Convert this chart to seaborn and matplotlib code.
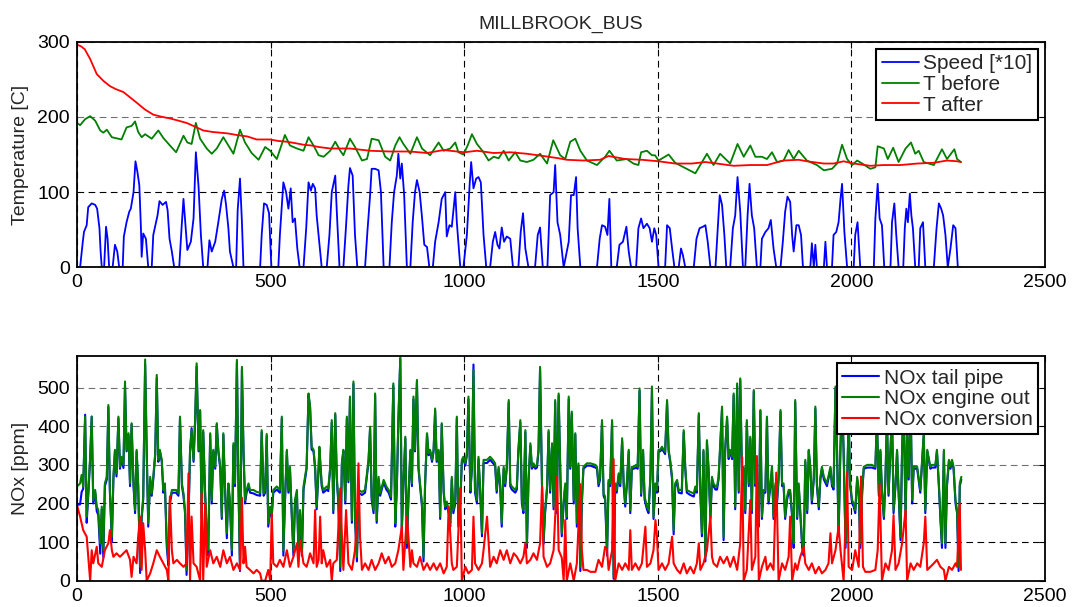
import matplotlib
matplotlib.use("Agg")
import matplotlib.pyplot as plt
import seaborn as sns

# ---------------- top panel: speed and catalyst temperatures ----------------
speed_t = [
    0, 8, 15, 18, 25, 29, 38, 47, 52, 58,
    61, 64, 70, 75, 79, 83, 92, 98, 104, 109,
    118, 121, 128, 135, 139, 146, 151, 156, 161, 165,
    167, 171, 178, 184, 193, 197, 208, 213, 221, 230,
    234, 239, 245, 251, 264, 270, 275, 279, 285, 294,
    301, 307, 314, 320, 326, 337, 342, 348, 357, 365,
    374, 380, 385, 391, 395, 404, 411, 415, 421, 426,
    430, 473, 477, 483, 490, 496, 502, 520, 524, 533,
    540, 546, 552, 557, 563, 569, 575, 585, 592, 598,
    604, 609, 615, 619, 624, 628, 632, 645, 652, 658,
    667, 671, 678, 688, 695, 701, 705, 712, 718, 724,
    744, 750, 757, 761, 770, 779, 785, 792, 807, 813,
    819, 826, 830, 835, 839, 845, 852, 861, 867, 873,
    878, 885, 891, 897, 904, 910, 919, 925, 934, 942,
    951, 955, 962, 968, 977, 981, 990, 998, 1007, 1014,
    1018, 1024, 1031, 1037, 1043, 1050, 1057, 1067, 1074, 1080,
    1086, 1091, 1097, 1103, 1110, 1119, 1126, 1140, 1146, 1152,
    1158, 1166, 1183, 1190, 1196, 1203, 1215, 1222, 1231, 1235,
    1241, 1248, 1257, 1270, 1276, 1283, 1289, 1293, 1300, 1343,
    1350, 1356, 1364, 1370, 1375, 1380, 1394, 1401, 1410, 1419,
    1425, 1431, 1444, 1450, 1457, 1463, 1472, 1479, 1485, 1491,
    1496, 1502, 1519, 1524, 1531, 1537, 1543, 1554, 1560, 1565,
    1571, 1593, 1600, 1608, 1617, 1623, 1629, 1636, 1649, 1655,
    1660, 1666, 1672, 1677, 1687, 1694, 1700, 1706, 1713, 1720,
    1726, 1732, 1737, 1743, 1749, 1756, 1765, 1769, 1778, 1786,
    1792, 1799, 1806, 1817, 1823, 1829, 1835, 1842, 1847, 1851,
    1858, 1864, 1870, 1875, 1894, 1898, 1903, 1907, 1911, 1929,
    1933, 1937, 1950, 1954, 1961, 1967, 1972, 1976, 1982, 1989,
    2006, 2010, 2016, 2023, 2058, 2062, 2068, 2073, 2079, 2085,
    2101, 2105, 2111, 2116, 2122, 2134, 2138, 2142, 2146, 2151,
    2155, 2159, 2165, 2174, 2178, 2185, 2191, 2213, 2220, 2226,
    2232, 2237, 2243, 2249, 2256, 2263, 2269, 2275, 2282,
]
speed_x10 = [
    0, 0, 34, 47, 56, 80, 85, 83, 78, 52,
    21, 0, 0, 54, 38, 0, 0, 30, 21, 0,
    0, 41, 60, 74, 78, 100, 141, 127, 109, 54,
    14, 45, 38, 0, 0, 43, 69, 88, 83, 87,
    76, 38, 21, 0, 0, 52, 91, 63, 23, 34,
    65, 153, 107, 43, 0, 0, 36, 21, 34, 60,
    91, 102, 83, 52, 21, 0, 0, 76, 118, 60,
    0, 0, 43, 85, 83, 72, 0, 0, 43, 113,
    100, 78, 105, 60, 65, 25, 0, 0, 52, 113,
    102, 111, 105, 69, 43, 21, 0, 0, 43, 100,
    122, 74, 0, 0, 56, 109, 132, 122, 43, 0,
    0, 47, 96, 131, 131, 129, 100, 0, 0, 60,
    100, 122, 151, 118, 138, 96, 0, 0, 60, 100,
    116, 100, 67, 30, 27, 0, 0, 34, 60, 91,
    100, 41, 56, 54, 100, 60, 0, 0, 43, 109,
    140, 105, 118, 120, 113, 43, 0, 0, 34, 47,
    30, 25, 53, 34, 41, 38, 0, 0, 47, 72,
    25, 0, 0, 43, 53, 0, 0, 96, 100, 136,
    60, 43, 0, 34, 96, 96, 120, 52, 0, 0,
    38, 56, 54, 43, 91, 0, 0, 30, 34, 54,
    21, 0, 0, 52, 65, 52, 58, 52, 34, 52,
    43, 0, 0, 56, 52, 25, 0, 0, 25, 16,
    0, 0, 38, 52, 54, 56, 34, 0, 0, 52,
    96, 83, 43, 0, 0, 52, 69, 120, 74, 0,
    0, 69, 111, 69, 52, 0, 0, 38, 47, 52,
    63, 25, 0, 0, 34, 74, 94, 87, 43, 21,
    56, 56, 43, 0, 0, 32, 0, 30, 0, 0,
    34, 0, 0, 43, 47, 60, 91, 111, 47, 0,
    0, 43, 60, 0, 0, 65, 111, 65, 56, 0,
    0, 60, 85, 43, 0, 0, 52, 78, 60, 98,
    69, 52, 0, 0, 52, 60, 0, 0, 52, 85,
    78, 69, 43, 0, 25, 56, 52, 0, 0,
]

t_before_t = [
    0, 8, 21, 34, 47, 60, 68, 77, 90, 115,
    128, 141, 150, 158, 167, 176, 193, 210, 223, 240,
    256, 275, 285, 296, 307, 318, 335, 348, 361, 378,
    391, 404, 421, 434, 451, 469, 486, 499, 516, 537,
    550, 568, 585, 598, 611, 624, 637, 654, 667, 680,
    688, 705, 718, 736, 749, 761, 779, 796, 809, 822,
    833, 843, 861, 878, 891, 912, 934, 947, 964, 977,
    985, 998, 1009, 1020, 1033, 1050, 1063, 1076, 1089, 1102,
    1115, 1132, 1145, 1162, 1179, 1196, 1214, 1230, 1248, 1261,
    1274, 1287, 1300, 1317, 1343, 1364, 1375, 1394, 1420, 1437,
    1450, 1457, 1472, 1485, 1493, 1502, 1528, 1545, 1567, 1597,
    1627, 1644, 1661, 1687, 1706, 1722, 1739, 1752, 1769, 1782,
    1795, 1808, 1825, 1838, 1851, 1864, 1885, 1911, 1929, 1950,
    1963, 1976, 1989, 2002, 2015, 2028, 2049, 2062, 2068, 2084,
    2094, 2108, 2122, 2140, 2154, 2165, 2174, 2187, 2213, 2234,
    2247, 2266, 2273, 2283,
]
t_before = [
    192, 189, 197, 201, 195, 182, 179, 183, 173, 170,
    186, 188, 194, 180, 173, 177, 171, 182, 172, 162,
    153, 175, 166, 164, 192, 171, 158, 151, 158, 173,
    162, 151, 183, 166, 152, 143, 160, 155, 144, 176,
    162, 158, 155, 173, 162, 149, 147, 155, 167, 155,
    149, 171, 160, 142, 144, 171, 169, 147, 142, 162,
    173, 164, 151, 173, 158, 149, 166, 155, 158, 166,
    153, 150, 162, 177, 164, 153, 142, 147, 145, 155,
    142, 153, 142, 140, 143, 151, 138, 169, 149, 144,
    167, 171, 155, 142, 136, 147, 155, 142, 144, 138,
    136, 153, 155, 149, 149, 142, 150, 139, 133, 125,
    151, 136, 151, 138, 164, 147, 162, 147, 147, 144,
    153, 140, 142, 156, 144, 155, 142, 136, 129, 131,
    138, 163, 144, 136, 142, 138, 131, 133, 161, 158,
    144, 159, 140, 158, 166, 151, 155, 140, 136, 157,
    144, 157, 144, 140,
]

t_after_t = [
    0, 10, 20, 34, 51, 68, 85, 100, 120, 137,
    154, 175, 197, 220, 240, 262, 283, 305, 326, 350,
    370, 390, 412, 440, 464, 499, 520, 542, 565, 585,
    605, 624, 654, 705, 757, 809, 860, 904, 947, 981,
    1001, 1033, 1076, 1119, 1162, 1205, 1244, 1265, 1308, 1351,
    1373, 1416, 1459, 1502, 1545, 1588, 1623, 1653, 1696, 1739,
    1782, 1825, 1864, 1885, 1929, 1954, 1980, 2006, 2049, 2084,
    2127, 2170, 2213, 2247, 2273, 2283,
]
t_after = [
    296, 294, 290, 277, 257, 248, 241, 237, 233, 226,
    219, 210, 203, 200, 198, 195, 192, 187, 182, 180,
    179, 178, 176, 174, 170, 170, 168, 167, 165, 163,
    162, 160, 158, 158, 155, 154, 154, 152, 156, 154,
    153, 155, 152, 153, 151, 148, 145, 143, 142, 143,
    148, 144, 143, 141, 138, 138, 140, 138, 135, 136,
    136, 142, 143, 141, 138, 138, 141, 138, 135, 136,
    136, 138, 139, 142, 141, 140,
]

# ---------------- bottom panel: NOx ----------------
nox_t = [
    # 0 - 624 s
    0, 8, 12, 16, 21, 25, 29, 34, 38, 42,
    47, 51, 55, 60, 64, 68, 72, 77, 81, 85,
    90, 94, 98, 102, 107, 111, 115, 120, 124, 128,
    133, 137, 141, 146, 150, 154, 158, 163, 167, 171,
    176, 180, 184, 189, 193, 197, 202, 206, 210, 214,
    219, 223, 227, 232, 236, 240, 245, 249, 256, 262,
    266, 271, 275, 279, 283, 288, 292, 296, 301, 305,
    309, 314, 318, 322, 326, 331, 335, 339, 344, 348,
    352, 357, 361, 365, 370, 374, 378, 382, 387, 391,
    395, 400, 404, 408, 413, 417, 421, 426, 430, 434,
    438, 443, 447, 456, 464, 473, 477, 482, 486, 490,
    494, 499, 503, 507, 516, 524, 529, 533, 537, 542,
    546, 550, 555, 559, 563, 568, 572, 576, 581, 585,
    589, 593, 598, 602, 606, 611, 615, 619, 624,
    # 626 - 1218 s
    626, 632, 636, 645, 649, 654, 658, 662, 667, 671,
    675, 680, 684, 688, 693, 697, 701, 705, 710, 714,
    718, 723, 727, 736, 744, 753, 757, 761, 766, 770,
    774, 779, 783, 792, 799, 805, 811, 817, 822, 826,
    830, 835, 839, 843, 848, 852, 856, 861, 865, 869,
    873, 878, 882, 886, 891, 895, 899, 904, 908, 912,
    917, 921, 925, 929, 934, 938, 942, 947, 951, 955,
    960, 964, 968, 972, 977, 981, 985, 990, 994, 998,
    1003, 1007, 1011, 1016, 1020, 1024, 1028, 1033, 1037, 1041,
    1046, 1050, 1059, 1067, 1074, 1080, 1084, 1089, 1093, 1097,
    1102, 1106, 1110, 1115, 1119, 1123, 1132, 1136, 1140, 1145,
    1149, 1153, 1158, 1162, 1166, 1171, 1175, 1179, 1184, 1188,
    1192, 1196, 1201, 1205, 1209, 1214, 1218,
    # 1222 - 1838 s
    1222, 1227, 1231, 1235, 1239, 1244, 1248, 1252, 1257, 1261,
    1265, 1270, 1274, 1278, 1283, 1287, 1291, 1295, 1300, 1304,
    1308, 1317, 1326, 1339, 1343, 1347, 1351, 1356, 1360, 1364,
    1369, 1373, 1377, 1382, 1386, 1390, 1394, 1399, 1403, 1408,
    1412, 1416, 1420, 1425, 1429, 1433, 1438, 1444, 1448, 1453,
    1457, 1462, 1466, 1472, 1476, 1481, 1485, 1489, 1494, 1498,
    1502, 1506, 1511, 1515, 1519, 1524, 1528, 1532, 1537, 1541,
    1545, 1550, 1554, 1562, 1567, 1571, 1575, 1584, 1593, 1597,
    1601, 1606, 1610, 1614, 1618, 1623, 1627, 1631, 1636, 1640,
    1644, 1649, 1653, 1657, 1661, 1666, 1670, 1674, 1679, 1683,
    1687, 1692, 1696, 1700, 1705, 1709, 1713, 1718, 1722, 1726,
    1730, 1735, 1739, 1743, 1748, 1752, 1756, 1761, 1765, 1769,
    1773, 1778, 1782, 1786, 1791, 1795, 1799, 1804, 1808, 1812,
    1817, 1821, 1825, 1829, 1834, 1838,
    # 1842 - 2284 s
    1842, 1847, 1851, 1855, 1860, 1864, 1868, 1873, 1877, 1881,
    1886, 1890, 1894, 1898, 1903, 1907, 1911, 1916, 1920, 1924,
    1929, 1937, 1946, 1950, 1954, 1959, 1963, 1967, 1972, 1976,
    1980, 1985, 1989, 1993, 1997, 2002, 2006, 2010, 2015, 2019,
    2023, 2028, 2032, 2041, 2053, 2062, 2066, 2071, 2075, 2079,
    2084, 2088, 2092, 2096, 2101, 2105, 2109, 2114, 2118, 2122,
    2127, 2131, 2135, 2140, 2144, 2148, 2153, 2157, 2161, 2170,
    2178, 2187, 2191, 2196, 2204, 2208, 2217, 2221, 2226, 2230,
    2234, 2239, 2243, 2247, 2252, 2256, 2260, 2264, 2269, 2273,
    2277, 2280, 2284,
]
nox_engine_out = [
    244, 252, 274, 244, 425, 166, 226, 321, 425, 209,
    235, 192, 183, 97, 192, 79, 252, 269, 455, 235,
    114, 269, 339, 278, 425, 295, 321, 300, 516, 339,
    382, 252, 408, 252, 183, 339, 252, 36, 166, 218,
    573, 339, 149, 269, 226, 269, 330, 533, 313, 339,
    313, 235, 252, 97, 54, 209, 235, 235, 235, 226,
    425, 252, 226, 183, 28, 166, 339, 390, 313, 416,
    563, 339, 442, 166, 390, 226, 131, 79, 382, 209,
    339, 295, 408, 339, 295, 166, 382, 252, 123, 252,
    209, 79, 356, 252, 572, 252, 36, 554, 339, 209,
    235, 252, 235, 235, 230, 228, 390, 226, 235, 380,
    149, 192, 174, 235, 244, 235, 425, 79, 209, 339,
    235, 295, 166, 79, 209, 235, 79, 183, 79, 244,
    269, 295, 485, 451, 347, 339, 295, 192, 295,
    347, 252, 235, 244, 239, 295, 416, 183, 434, 269,
    209, 36, 304, 339, 209, 425, 261, 477, 157, 516,
    166, 62, 235, 230, 235, 313, 399, 218, 183, 485,
    157, 269, 226, 261, 244, 235, 218, 511, 149, 244,
    416, 580, 140, 252, 373, 97, 218, 339, 252, 477,
    339, 520, 295, 252, 200, 62, 252, 382, 330, 339,
    313, 339, 446, 313, 339, 166, 408, 235, 192, 205,
    183, 149, 269, 183, 209, 425, 149, 209, 313, 321,
    304, 330, 477, 235, 295, 546, 235, 209, 321, 244,
    123, 313, 313, 321, 313, 304, 235, 295, 252, 149,
    295, 252, 295, 468, 252, 244, 235, 244, 339, 416,
    209, 183, 390, 97, 261, 356, 295, 304, 295, 300,
    339, 554, 252, 105, 183, 244, 390,
    235, 356, 192, 468, 183, 485, 295, 123, 209, 252,
    166, 477, 295, 438, 209, 382, 149, 304, 36, 209,
    295, 304, 304, 300, 295, 252, 269, 416, 226, 218,
    79, 261, 252, 416, 10, 252, 235, 278, 252, 369,
    252, 200, 252, 339, 183, 295, 295, 300, 295, 498,
    226, 339, 218, 192, 183, 269, 503, 166, 252, 235,
    339, 339, 347, 339, 334, 468, 339, 313, 269, 131,
    252, 261, 235, 235, 390, 295, 235, 230, 226, 244,
    235, 434, 235, 123, 339, 62, 364, 295, 166, 269,
    252, 244, 244, 269, 347, 451, 114, 339, 425, 321,
    339, 321, 485, 192, 511, 235, 524, 252, 295, 183,
    416, 252, 373, 183, 494, 252, 269, 149, 442, 166,
    235, 235, 425, 209, 252, 295, 166, 252, 209, 269,
    442, 252, 252, 166, 218, 235,
    235, 174, 97, 468, 166, 252, 183, 97, 79, 313,
    183, 339, 295, 209, 269, 451, 252, 192, 269, 295,
    269, 252, 295, 252, 244, 503, 339, 123, 356, 477,
    339, 97, 252, 425, 252, 209, 200, 183, 269, 235,
    97, 235, 295, 300, 300, 295, 425, 226, 339, 235,
    166, 269, 425, 226, 339, 442, 183, 252, 339, 235,
    114, 339, 468, 166, 382, 269, 468, 209, 295, 295,
    235, 382, 183, 339, 295, 300, 300, 339, 252, 166,
    97, 339, 97, 252, 313, 295, 313, 295, 209, 183,
    36, 252, 269,
]
nox_tail_pipe = [
    196, 198, 230, 238, 430, 150, 220, 315, 425, 200,
    228, 180, 170, 70, 185, 60, 245, 262, 450, 228,
    100, 262, 335, 270, 420, 290, 315, 292, 505, 335,
    378, 245, 405, 245, 175, 335, 245, 20, 160, 210,
    560, 335, 140, 262, 220, 262, 325, 525, 308, 335,
    308, 228, 245, 85, 40, 200, 228, 228, 228, 220,
    420, 245, 220, 175, 15, 160, 335, 395, 308, 410,
    555, 335, 440, 160, 385, 220, 120, 65, 378, 200,
    335, 290, 405, 335, 290, 160, 378, 245, 110, 245,
    200, 65, 350, 245, 565, 245, 25, 548, 335, 200,
    228, 245, 228, 226, 222, 220, 385, 220, 228, 375,
    140, 185, 165, 228, 236, 228, 420, 65, 200, 335,
    228, 290, 160, 65, 200, 228, 65, 175, 65, 236,
    262, 290, 480, 448, 340, 335, 290, 185, 290,
    340, 245, 228, 236, 232, 290, 410, 175, 430, 262,
    200, 25, 300, 335, 200, 420, 255, 470, 150, 510,
    160, 50, 228, 222, 228, 308, 395, 210, 175, 480,
    150, 262, 220, 255, 236, 228, 210, 505, 140, 236,
    410, 575, 130, 245, 368, 85, 210, 335, 245, 470,
    335, 515, 290, 245, 192, 50, 245, 378, 325, 335,
    308, 335, 440, 308, 335, 160, 405, 228, 185, 198,
    175, 140, 262, 175, 200, 420, 140, 200, 308, 315,
    298, 325, 470, 228, 290, 560, 228, 200, 315, 236,
    115, 305, 305, 313, 305, 298, 228, 290, 245, 140,
    290, 245, 290, 462, 245, 236, 228, 236, 335, 410,
    200, 175, 385, 85, 255, 350, 290, 298, 290, 293,
    335, 548, 245, 95, 175, 236, 385,
    228, 350, 185, 462, 175, 480, 290, 115, 200, 245,
    160, 470, 290, 432, 200, 378, 140, 298, 25, 200,
    290, 298, 298, 293, 290, 245, 262, 410, 220, 210,
    65, 255, 245, 410, 5, 245, 228, 272, 245, 362,
    245, 192, 245, 335, 175, 290, 290, 293, 290, 492,
    220, 335, 210, 185, 175, 262, 498, 160, 245, 228,
    335, 335, 340, 335, 328, 462, 335, 308, 262, 120,
    245, 255, 228, 226, 385, 290, 228, 222, 218, 236,
    228, 430, 228, 115, 335, 50, 358, 290, 160, 262,
    245, 236, 236, 262, 340, 445, 105, 335, 420, 315,
    335, 315, 480, 185, 505, 228, 520, 245, 290, 175,
    410, 245, 368, 175, 490, 245, 262, 140, 440, 160,
    228, 228, 420, 200, 245, 290, 160, 245, 200, 262,
    438, 245, 245, 160, 210, 228,
    228, 165, 85, 462, 160, 245, 175, 85, 65, 308,
    175, 335, 290, 200, 262, 445, 245, 185, 262, 290,
    262, 245, 290, 245, 236, 498, 335, 115, 350, 470,
    335, 85, 245, 420, 245, 200, 192, 175, 262, 228,
    85, 228, 290, 293, 293, 290, 420, 220, 335, 228,
    160, 262, 420, 220, 335, 438, 175, 245, 335, 228,
    105, 335, 462, 160, 378, 262, 462, 200, 290, 290,
    228, 378, 175, 335, 290, 293, 293, 335, 245, 160,
    85, 335, 85, 245, 308, 290, 308, 290, 200, 175,
    25, 245, 262,
]

conv_t = [
    0, 8, 16, 25, 29, 34, 38, 42, 51, 55,
    64, 72, 81, 85, 90, 94, 102, 111, 120, 128,
    137, 141, 146, 154, 158, 163, 167, 171, 176, 180,
    189, 197, 206, 214, 223, 232, 236, 240, 245, 249,
    258, 266, 275, 283, 288, 292, 296, 301, 309, 318,
    322, 326, 331, 335, 344, 352, 361, 370, 378, 387,
    395, 404, 413, 421, 426, 430, 434, 438, 447, 456,
    464, 473, 477, 486, 494, 499, 503, 507, 516, 524,
    533, 542, 550, 559, 568, 572, 576, 585, 593, 598,
    602, 611, 615, 619, 624, 628, 632, 636, 645, 654,
    658, 662, 671, 680, 684, 688, 695, 701, 710, 718,
    723, 727, 731, 736, 744, 753, 761, 770, 779, 787,
    796, 805, 813, 822, 830, 839, 843, 852, 856, 861,
    865, 869, 878, 886, 895, 904, 912, 921, 929, 938,
    947, 955, 960, 964, 968, 972, 981, 990, 994, 1003,
    1011, 1020, 1024, 1028, 1037, 1046, 1050, 1059, 1067, 1076,
    1084, 1093, 1102, 1110, 1119, 1128, 1136, 1145, 1153, 1158,
    1162, 1171, 1179, 1188, 1196, 1201, 1205, 1214, 1222, 1231,
    1240, 1244, 1252, 1257, 1261, 1265, 1274, 1283, 1291, 1300,
    1304, 1308, 1317, 1326, 1339, 1347, 1356, 1364, 1369, 1373,
    1382, 1386, 1390, 1399, 1408, 1416, 1425, 1429, 1433, 1442,
    1451, 1459, 1468, 1472, 1481, 1489, 1494, 1498, 1502, 1511,
    1519, 1528, 1537, 1541, 1550, 1558, 1567, 1575, 1584, 1593,
    1601, 1606, 1610, 1618, 1627, 1636, 1640, 1644, 1653, 1661,
    1670, 1679, 1687, 1696, 1705, 1713, 1718, 1722, 1730, 1739,
    1743, 1752, 1756, 1761, 1769, 1778, 1782, 1791, 1799, 1806,
    1812, 1821, 1829, 1838, 1842, 1847, 1855, 1860, 1868, 1877,
    1881, 1890, 1898, 1907, 1916, 1924, 1933, 1941, 1946, 1950,
    1959, 1967, 1972, 1980, 1989, 1993, 2002, 2010, 2019, 2025,
    2030, 2036, 2049, 2062, 2068, 2073, 2079, 2088, 2096, 2105,
    2109, 2114, 2122, 2131, 2140, 2144, 2153, 2161, 2170, 2178,
    2187, 2191, 2196, 2204, 2213, 2221, 2230, 2239, 2243, 2252,
    2260, 2269, 2273, 2277, 2280, 2283,
]
nox_conversion = [
    196, 166, 131, 114, 62, 0, 79, 45, 88, 45,
    36, 79, 97, 131, 79, 62, 71, 62, 71, 79,
    54, 10, 62, 45, 114, 166, 28, 149, 79, 0,
    19, 45, 79, 62, 45, 28, 0, 218, 79, 45,
    54, 45, 36, 45, 278, 0, 166, 45, 36, 0,
    226, 0, 200, 36, 79, 45, 62, 36, 79, 45,
    62, 28, 45, 28, 215, 45, 88, 36, 28, 19,
    28, 19, 0, 0, 28, 0, 174, 45, 36, 54,
    36, 79, 36, 62, 97, 36, 105, 45, 36, 54,
    71, 45, 183, 36, 54, 166, 45, 79, 36, 54,
    0, 45, 54, 239, 123, 28, 183, 45, 28, 79,
    166, 304, 114, 28, 45, 28, 54, 28, 45, 71,
    45, 62, 36, 45, 79, 140, 28, 166, 114, 36,
    79, 45, 36, 62, 28, 45, 28, 45, 28, 45,
    19, 36, 192, 123, 45, 28, 36, 240, 0, 36,
    19, 28, 166, 45, 28, 45, 79, 166, 36, 62,
    45, 79, 54, 79, 45, 71, 62, 45, 62, 97,
    45, 54, 71, 54, 97, 244, 62, 36, 45, 79,
    270, 79, 60, 0, 157, 0, 45, 0, 45, 250,
    79, 28, 28, 23, 23, 54, 36, 88, 79, 28,
    79, 315, 0, 45, 28, 45, 28, 131, 28, 45,
    28, 45, 140, 36, 45, 79, 157, 114, 28, 45,
    28, 45, 114, 45, 28, 19, 45, 19, 36, 19,
    45, 97, 28, 45, 79, 166, 62, 45, 36, 62,
    45, 62, 36, 62, 28, 97, 320, 0, 28, 209,
    28, 62, 323, 0, 36, 62, 28, 45, 28, 280,
    0, 45, 28, 62, 166, 0, 45, 28, 62, 88,
    45, 28, 45, 19, 36, 19, 28, 45, 123, 45,
    79, 140, 79, 0, 280, 36, 28, 79, 36, 270,
    36, 23, 23, 28, 79, 250, 0, 45, 28, 79,
    170, 28, 45, 97, 183, 0, 45, 28, 45, 36,
    97, 166, 28, 36, 45, 54, 36, 28, 0, 36,
    28, 45, 36, 131, 200, 28,
]

for name, a, b in [("speed", speed_t, speed_x10), ("T before", t_before_t, t_before),
                   ("T after", t_after_t, t_after), ("engine", nox_t, nox_engine_out),
                   ("tail", nox_t, nox_tail_pipe), ("conv", conv_t, nox_conversion)]:
    if len(a) != len(b):
        raise ValueError(f"{name}: {len(a)} times vs {len(b)} values")

x_ticks = [0, 500, 1000, 1500, 2000, 2500]
temp_ticks = [0, 100, 200, 300]
nox_ticks = [0, 100, 200, 300, 400, 500]

BLUE, GREEN, RED = "#0000ff", "#007f00", "#ff0000"

sns.set_style("white")
plt.rcParams["font.family"] = ["Liberation Sans", "DejaVu Sans"]

fig = plt.figure(figsize=(10.86, 6.07), dpi=100)
ax1 = fig.add_axes([0.0709, 0.5596, 0.8913, 0.3717])
ax2 = fig.add_axes([0.0709, 0.0433, 0.8913, 0.3702])

line_kw = dict(estimator=None, sort=False)
sns.lineplot(x=speed_t, y=speed_x10, ax=ax1, color=BLUE, linewidth=1.3,
             label="Speed [*10]", **line_kw)
sns.lineplot(x=t_before_t, y=t_before, ax=ax1, color=GREEN, linewidth=1.3,
             label="T before", **line_kw)
sns.lineplot(x=t_after_t, y=t_after, ax=ax1, color=RED, linewidth=1.3,
             label="T after", **line_kw)

sns.lineplot(x=nox_t, y=nox_tail_pipe, ax=ax2, color=BLUE, linewidth=1.5,
             label="NOx tail pipe", **line_kw)
sns.lineplot(x=nox_t, y=nox_engine_out, ax=ax2, color=GREEN, linewidth=1.5,
             label="NOx engine out", **line_kw)
sns.lineplot(x=conv_t, y=nox_conversion, ax=ax2, color=RED, linewidth=1.5,
             label="NOx conversion", **line_kw)

ax1.set_ylim(0, 300)
ax2.set_ylim(0, 582)
ax1.set_yticks(temp_ticks)
ax2.set_yticks(nox_ticks)

dash = (0, (6, 4))
for ax, grey_levels in [(ax1, [200, 300]), (ax2, [300, 400, 500])]:
    ax.set_xlim(0, 2500)
    ax.set_xticks(x_ticks)
    ax.set_xlabel("")
    ax.set_axisbelow(True)
    ax.grid(True, linestyle=dash, color="black", linewidth=0.8)
    for tick_val, gl in zip(ax.get_yticks(), ax.yaxis.get_gridlines()):
        if tick_val in grey_levels:
            gl.set_color("#707070")
    ax.tick_params(direction="in", length=4, width=0.8, top=True, right=True,
                   labelsize=14, pad=5, colors="black")
    for sp in ax.spines.values():
        sp.set_visible(True)
        sp.set_color("black")
        sp.set_linewidth(1.3)
    leg = ax.legend(loc="upper right", fontsize=15, frameon=True, fancybox=False,
                    edgecolor="black", framealpha=1, borderpad=0.25,
                    labelspacing=0.08, handlelength=1.8, handletextpad=0.2,
                    borderaxespad=0.35)
    leg.get_frame().set_linewidth(1.5)

ax1.set_ylabel("Temperature [C]", fontsize=14, labelpad=6)
ax2.set_ylabel("NOx [ppm]", fontsize=14, labelpad=6)
ax1.set_title("MILLBROOK_BUS", fontsize=14, pad=9)

fig.savefig("out.png", dpi=100)
